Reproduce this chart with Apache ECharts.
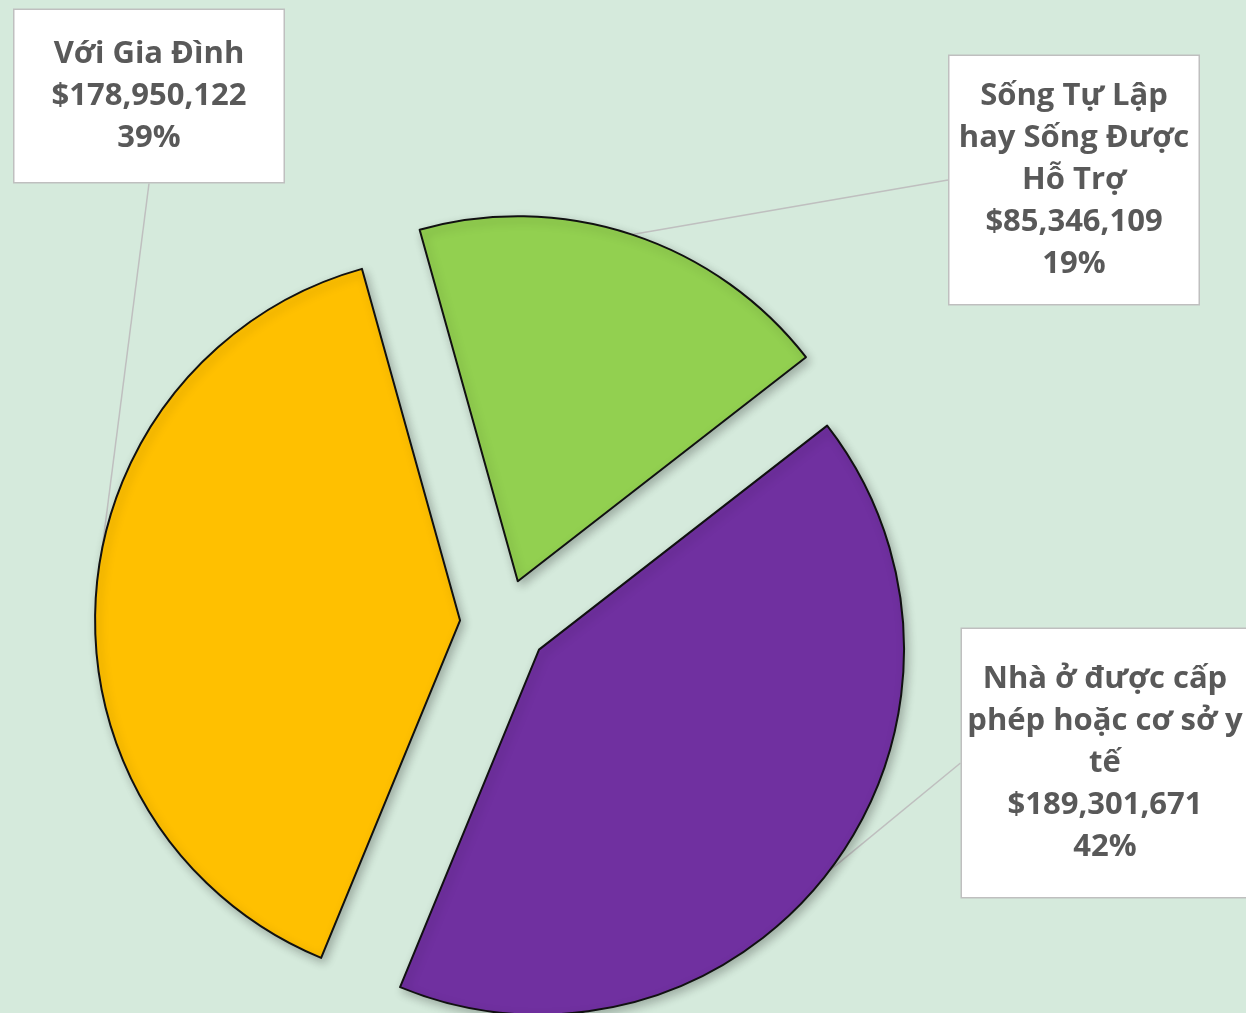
<!DOCTYPE html>
<html>
<head>
<meta charset="utf-8">
<script src="https://cdn.jsdelivr.net/npm/echarts@6/dist/echarts.min.js"></script>
<style>
html,body{margin:0;padding:0;background:#D5EADC;}
#chart{width:1246px;height:1013px;}
</style>
</head>
<body>
<div id="chart"></div>
<script>
// Data
var categories = ['Sống Tự Lập\nhay Sống Được\nHỗ Trợ', 'Nhà ở được cấp\nphép hoặc cơ sở y\ntế', 'Với Gia Đình'];
var values = [85346109, 189301671, 178950122];
var colors = ['#92D050', '#7030A0', '#FFC000'];

// Layout settings
var pieCenter = [504, 623];
var pieRadius = 365;
var explode = 44;
var startAngle = 105.6;
var labelBoxes = [
  {x: 1074, y: 180, w: 249, pad: [19, 0]},
  {x: 1105, y: 763, w: 286, pad: [29, 0]},
  {x: 149, y: 96, w: 269, pad: [23, 0]}
];

var total = values.reduce(function (a, b) { return a + b; }, 0);

function fmt(i) {
  return categories[i] + '\n$' + values[i].toLocaleString('en-US') + '\n' + Math.round(values[i] / total * 100) + '%';
}

var chart = echarts.init(document.getElementById('chart'));
var series = [];
var cum = 0;
values.forEach(function (v, k) {
  var mid = (startAngle - (cum + v / 2) / total * 360) * Math.PI / 180;
  cum += v;
  var c = [pieCenter[0] + explode * Math.cos(mid), pieCenter[1] - explode * Math.sin(mid)];
  var data = categories.map(function (name, i) {
    var on = i === k;
    return {
      name: name,
      value: values[i],
      itemStyle: on ? {color: colors[i]} : {color: 'rgba(0,0,0,0)', borderWidth: 0, shadowColor: 'rgba(0,0,0,0)'},
      label: on ? {show: true, width: labelBoxes[i].w, padding: labelBoxes[i].pad} : {show: false},
      labelLine: {show: on}
    };
  });
  series.push({
    type: 'pie',
    center: c,
    radius: [0, pieRadius],
    startAngle: startAngle,
    clockwise: true,
    silent: true,
    emphasis: {disabled: true},
    itemStyle: {
      borderColor: '#111',
      borderWidth: 2,
      shadowBlur: 10,
      shadowColor: 'rgba(0,0,0,0.25)',
      shadowOffsetX: 3,
      shadowOffsetY: 4
    },
    label: {
      position: 'outside',
      formatter: function (p) { return fmt(p.dataIndex); },
      fontFamily: 'Open Sans',
      fontWeight: 'bold',
      fontSize: 31,
      lineHeight: 42,
      color: '#595959',
      align: 'center',
      backgroundColor: '#ffffff',
      borderColor: '#BFBFBF',
      borderWidth: 1.5
    },
    labelLine: {
      length: 0,
      length2: 0,
      lineStyle: {color: '#BFBFBF', width: 1.5}
    },
    labelLayout: function (params) {
      var b = labelBoxes[params.dataIndex];
      return {x: b.x, y: b.y, align: 'center', verticalAlign: 'middle'};
    },
    data: data
  });
});

chart.setOption({
  backgroundColor: '#D5EADC',
  animation: false,
  series: series
});
</script>
</body>
</html>
